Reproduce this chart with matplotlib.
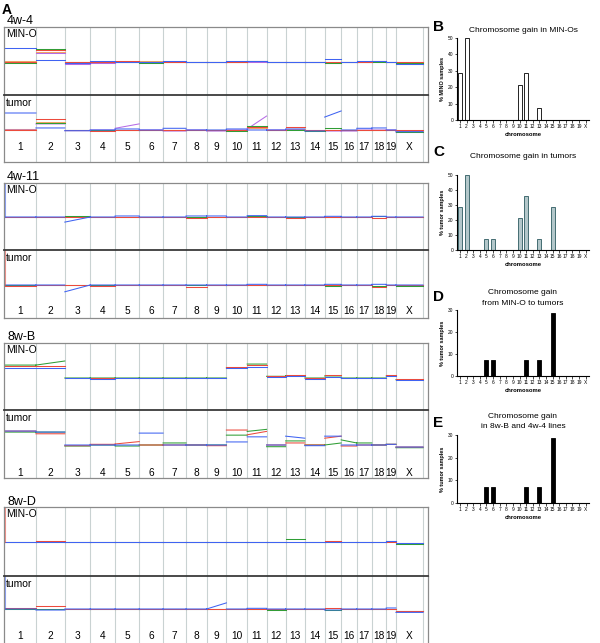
import numpy as np
import matplotlib
matplotlib.use('Agg')
import matplotlib.pyplot as plt

plt.rcParams['font.family'] = ['Liberation Sans', 'DejaVu Sans']

W, H = 600, 643

chrom_names = [str(i) for i in range(1, 20)] + ['X']
chrom_mb = [195, 182, 160, 157, 152, 150, 145, 129, 125, 131, 122, 120, 121, 125, 104, 98, 95, 91, 61, 171]

# % of samples with chromosome gain (panels B-E)
gain_mino = [28.6, 50, 0, 0, 0, 0, 0, 0, 0, 21.4, 28.6, 0, 7.1, 0, 0, 0, 0, 0, 0, 0]
gain_tumor = [28.6, 50, 0, 0, 7.1, 7.1, 0, 0, 0, 21.4, 35.7, 0, 7.1, 0, 28.6, 0, 0, 0, 0, 0]
gain_mino_to_tumor = [0, 0, 0, 0, 7.1, 7.1, 0, 0, 0, 0, 7.1, 0, 7.1, 0, 28.6, 0, 0, 0, 0, 0]
gain_8wB_4w4 = [0, 0, 0, 0, 7.1, 7.1, 0, 0, 0, 0, 7.1, 0, 7.1, 0, 28.6, 0, 0, 0, 0, 0]

# copy number profiles, one level per chromosome (tuple = start/end level)
w44_mino_orange = [0.02, 0.30, 0.0, 0.0, 0.0, 0.02, 0.0, 0.0, 0.0, 0.0, 0.02, 0.0, 0.0, 0.0, 0.0, 0.0, 0.0, 0.03, 0.0, 0.0]
w44_mino_purple = [0.0, 0.26, -0.05, -0.03, 0.0, 0.0, 0.0, 0.0, 0.0, 0.0, 0.0, 0.0, 0.0, 0.0, -0.03, 0.0, 0.0, 0.0, 0.0, -0.05]
w44_mino_green = [-0.02, 0.38, 0.0, 0.0, 0.0, -0.02, 0.0, 0.0, 0.0, 0.0, 0.02, 0.0, 0.0, 0.0, -0.02, 0.0, 0.0, 0.0, 0.0, -0.02]
w44_mino_red = [0.0, 0.35, 0.0, 0.0, 0.02, 0.0, 0.0, 0.0, 0.0, 0.0, 0.04, 0.0, 0.0, 0.0, 0.0, 0.0, 0.0, 0.02, 0.0, 0.0]
w44_mino_blue = [0.41, 0.06, -0.03, 0.02, 0.0, 0.0, 0.03, 0.0, 0.0, 0.02, 0.03, 0.0, 0.0, 0.0, 0.09, 0.0, 0.03, 0.02, 0.0, -0.06]

w44_tum_orange = [0.02, 0.24, 0.0, 0.0, 0.0, 0.0, 0.0, 0.0, 0.0, 0.0, 0.06, 0.0, 0.03, 0.0, 0.0, 0.0, 0.0, 0.0, 0.0, -0.03]
w44_tum_purple = [0.0, 0.18, -0.02, 0.0, (0.05, 0.18), 0.0, -0.03, 0.0, -0.03, 0.0, (0.03, 0.41), 0.0, 0.0, -0.03, -0.03, -0.03, 0.0, 0.0, 0.0, -0.06]
w44_tum_green = [0.0, 0.2, 0.0, 0.0, 0.0, 0.0, 0.0, 0.0, 0.0, -0.03, 0.12, 0.0, 0.0, -0.02, 0.06, 0.0, 0.0, 0.0, 0.0, -0.06]
w44_tum_red = [0.0, 0.32, 0.0, -0.03, 0.0, 0.0, 0.0, 0.0, 0.0, 0.0, 0.08, 0.0, 0.09, 0.0, 0.0, 0.0, 0.0, 0.0, 0.0, 0.0]
w44_tum_blue = [0.5, 0.06, -0.02, 0.0, 0.03, 0.0, 0.05, 0.0, 0.0, 0.03, 0.0, 0.0, 0.03, -0.03, (0.38, 0.56), 0.0, 0.05, 0.06, 0.0, -0.05]

w411_mino_green = [0.0, 0.0, 0.02, 0.0, 0.0, 0.0, 0.0, 0.0, 0.0, 0.0, 0.03, 0.0, 0.0, 0.0, 0.0, 0.0, 0.0, 0.02, 0.0, 0.0]
w411_mino_red = [0.0, 0.0, 0.0, 0.0, 0.0, 0.0, 0.0, -0.02, 0.0, 0.0, 0.0, 0.0, -0.02, 0.0, 0.0, 0.0, 0.0, -0.04, 0.0, 0.0]
w411_mino_blue = [0.0, 0.0, (-0.15, 0.0), 0.0, 0.03, 0.0, 0.0, 0.03, 0.03, 0.0, 0.04, 0.0, 0.0, 0.0, 0.02, 0.0, 0.0, 0.02, 0.0, 0.0]
w411_tum_green = [0.0, 0.0, 0.0, 0.0, 0.0, 0.0, 0.0, 0.0, 0.0, 0.0, 0.0, 0.0, 0.0, 0.0, -0.04, 0.0, 0.0, -0.03, 0.0, -0.03]
w411_tum_red = [-0.02, 0.0, 0.0, -0.02, 0.0, 0.0, 0.0, -0.05, 0.0, 0.0, 0.0, 0.0, 0.0, 0.0, 0.0, 0.0, 0.0, -0.06, 0.0, 0.0]
w411_tum_blue = [0.0, 0.0, (-0.2, 0.0), 0.0, 0.0, 0.0, 0.0, 0.0, 0.0, 0.0, 0.02, 0.0, 0.0, 0.0, 0.02, 0.0, 0.0, 0.02, 0.0, 0.0]

w8b_mino_green = [0.38, (0.38, 0.5), 0.0, 0.0, 0.0, 0.0, 0.0, 0.0, 0.0, 0.3, 0.41, 0.05, 0.07, 0.0, 0.06, 0.0, 0.0, 0.0, 0.06, -0.05]
w8b_mino_red = [0.35, 0.35, 0.0, 0.0, 0.0, 0.0, 0.0, 0.0, 0.0, 0.32, 0.38, 0.06, 0.08, 0.0, 0.1, 0.0, 0.0, 0.0, 0.08, -0.04]
w8b_mino_blue = [0.29, 0.29, 0.0, -0.02, 0.0, 0.0, 0.0, 0.0, 0.0, 0.29, 0.32, 0.03, 0.05, -0.02, 0.04, 0.0, 0.0, 0.0, 0.05, -0.06]
w8b_tum_green = [0.38, 0.38, -0.03, 0.0, -0.03, 0.0, 0.06, 0.0, 0.0, 0.29, (0.4, 0.46), -0.05, 0.12, 0.0, (0.0, 0.06), (0.15, 0.06), 0.06, 0.0, 0.02, -0.08]
w8b_tum_red = [0.41, 0.33, -0.02, 0.02, (0.03, 0.1), 0.0, 0.0, 0.0, -0.02, 0.44, (0.3, 0.4), 0.0, 0.06, 0.0, (0.2, 0.26), -0.03, 0.0, 0.0, 0.02, -0.06]
w8b_tum_blue = [0.41, 0.38, 0.0, 0.0, 0.0, 0.35, 0.0, 0.0, 0.0, 0.09, 0.24, 0.0, (0.26, 0.2), -0.02, 0.26, 0.0, 0.0, 0.0, 0.02, -0.06]

w8d_mino_green = [0.0, 0.0, 0.0, 0.0, 0.0, 0.0, 0.0, 0.0, 0.0, 0.0, 0.0, 0.0, 0.09, 0.0, 0.0, 0.0, 0.0, 0.0, 0.02, -0.05]
w8d_mino_red = [0.0, 0.02, 0.0, 0.0, 0.0, 0.0, 0.0, 0.0, 0.0, 0.0, 0.0, 0.0, 0.0, 0.0, 0.02, 0.0, 0.0, 0.0, 0.0, -0.03]
w8d_mino_blue = [0.0, 0.0, 0.0, 0.0, 0.0, 0.0, 0.0, 0.0, 0.0, 0.0, 0.0, 0.0, 0.0, 0.0, 0.0, 0.0, 0.0, 0.0, 0.03, -0.04]
w8d_tum_green = [0.0, 0.0, 0.0, 0.0, 0.0, 0.0, 0.0, 0.0, 0.0, 0.0, 0.0, -0.02, 0.0, 0.0, -0.03, 0.0, 0.0, 0.0, 0.0, -0.07]
w8d_tum_red = [0.03, 0.08, 0.0, 0.0, 0.0, 0.0, 0.0, 0.0, 0.0, 0.0, 0.0, 0.0, 0.0, 0.0, 0.02, 0.0, 0.0, 0.0, 0.0, -0.05]
w8d_tum_blue = [0.0, -0.03, 0.0, 0.0, 0.0, 0.0, 0.0, 0.0, (0.0, 0.18), 0.0, 0.02, 0.0, 0.0, 0.0, -0.03, 0.0, 0.0, 0.0, 0.03, -0.1]

COL = {'blue': '#3f63f2', 'red': '#ec4a3c', 'green': '#2f9e35', 'purple': '#b56be6', 'orange': '#f2a463'}

fig = plt.figure(figsize=(W / 100, H / 100), dpi=100)


def px_axes(x0, top, x1, bottom):
    return fig.add_axes([x0 / W, 1 - bottom / H, (x1 - x0) / W, (bottom - top) / H])


def px_text(x, y, s, **kw):
    fig.text(x / W, 1 - y / H, s, **kw)


ends = np.cumsum(chrom_mb)
starts = ends - np.array(chrom_mb)
mids = (starts + ends) / 2
SCALE = 34.0  # px per unit


def draw_profile(ax, lines):
    for cname, levels in lines:
        xs, ys = [], []
        for i, lv in enumerate(levels):
            y0, y1 = lv if isinstance(lv, tuple) else (lv, lv)
            xs += [starts[i], ends[i], np.nan]
            ys += [y0, y1, np.nan]
        ax.plot(xs, ys, color=COL[cname], lw=0.75)


def style_box(ax, lo, hi):
    ax.set_xlim(-6, ends[-1] + 31)
    ax.set_ylim(lo, hi)
    ax.set_xticks([])
    ax.set_yticks([])
    for b in ends:
        ax.axvline(b, color='#c9d2d2', lw=0.8, zorder=0)
    for s in ax.spines.values():
        s.set_color('#8a8a8a')
        s.set_linewidth(0.9)


groups = [
    ('4w-4', (27, 95, 162, 62, 130, 147, 21),
     [('orange', w44_mino_orange), ('purple', w44_mino_purple), ('green', w44_mino_green), ('red', w44_mino_red), ('blue', w44_mino_blue)],
     [('orange', w44_tum_orange), ('purple', w44_tum_purple), ('green', w44_tum_green), ('red', w44_tum_red), ('blue', w44_tum_blue)],
     (None, None)),
    ('4w-11', (183, 250, 318, 217, 285, 311, 177),
     [('green', w411_mino_green), ('red', w411_mino_red), ('blue', w411_mino_blue)],
     [('green', w411_tum_green), ('red', w411_tum_red), ('blue', w411_tum_blue)],
     ('blue', 'red')),
    ('8w-B', (343, 410, 478, 378, 445, 473, 337),
     [('green', w8b_mino_green), ('red', w8b_mino_red), ('blue', w8b_mino_blue)],
     [('green', w8b_tum_green), ('red', w8b_tum_red), ('blue', w8b_tum_blue)],
     (None, None)),
    ('8w-D', (507, 576, 646, 542, 609, 636, 502),
     [('green', w8d_mino_green), ('red', w8d_mino_red), ('blue', w8d_mino_blue)],
     [('green', w8d_tum_green), ('red', w8d_tum_red), ('blue', w8d_tum_blue)],
     ('red', 'blue')),
]

for name, (top, div, bot, mb, tb, laby, namey), mino, tum, edge in groups:
    ax1 = px_axes(4, top, 428, div)
    lo1, hi1 = -(div - mb) / SCALE, (mb - top) / SCALE
    style_box(ax1, lo1, hi1)
    draw_profile(ax1, mino)
    ax2 = px_axes(4, div, 428, bot)
    lo2, hi2 = -(bot - tb) / SCALE, (tb - div) / SCALE
    style_box(ax2, lo2, hi2)
    draw_profile(ax2, tum)
    ax2.spines['top'].set_color('#3a3a3a')
    ax2.spines['top'].set_linewidth(1.3)
    ax1.spines['bottom'].set_visible(False)
    if edge[0]:
        ax1.plot([0, 0], [hi1, 0], color=COL[edge[0]], lw=0.8, alpha=0.6)
    if edge[1]:
        ax2.plot([0, 0], [hi2, 0], color=COL[edge[1]], lw=0.8, alpha=0.6)
    for m, lab in zip(mids, chrom_names):
        ax2.text(m, -(laby - tb) / SCALE, lab, ha='center', va='center', fontsize=7.3)
    px_text(7, namey, name, fontsize=9, va='center', ha='left')
    px_text(6, top + 7, 'MIN-O', fontsize=7.5, va='center', ha='left')
    px_text(6, div + 8, 'tumor', fontsize=7.5, va='center', ha='left')

px_text(2, 10, 'A', fontsize=10, fontweight='bold', va='center', ha='left')

# right-hand bar charts
x = np.arange(1, 21)
panels = [
    ('B', gain_mino, 50, 38, 120, 'white', 'black', ['Chromosome gain in MIN-Os'], [30], 27, '% MINO samples'),
    ('C', gain_tumor, 50, 175, 250, '#b3c7ca', '#2d5a60', ['Chromosome gain in tumors'], [157], 152, '% tumor samples'),
    ('D', gain_mino_to_tumor, 30, 310, 376, 'black', 'black', ['Chromosome gain', 'from MIN-O to tumors'], [293, 304], 297, '% tumor samples'),
    ('E', gain_8wB_4w4, 30, 435, 503, 'black', 'black', ['Chromosome gain', 'in 8w-B and 4w-4 lines'], [416, 426], 423, '% tumor samples'),
]
for letter, vals, ymax, top, bot, fc, ec, tlines, ty, ly, ylab in panels:
    ax = px_axes(457, top, 589, bot)
    ax.bar(x, vals, width=0.6, color=fc, edgecolor=ec, linewidth=0.6)
    ax.set_xlim(0.55, 20.5)
    ax.set_ylim(0, ymax)
    ax.set_yticks(np.arange(0, ymax + 1, 10))
    ax.set_xticks(x)
    ax.set_xticklabels(chrom_names)
    ax.tick_params(axis='both', labelsize=3.5, length=1.8, width=0.5, pad=1)
    for s in ['top', 'right']:
        ax.spines[s].set_visible(False)
    for s in ['left', 'bottom']:
        ax.spines[s].set_linewidth(0.8)
    ax.set_xlabel('chromosome', fontsize=4.2, fontweight='bold', labelpad=2)
    ax.set_ylabel(ylab, fontsize=4, fontweight='bold', labelpad=2)
    for t, yy in zip(tlines, ty):
        px_text(523, yy, t, fontsize=6, ha='center', va='center')
    px_text(433, ly, letter, fontsize=11, fontweight='bold', ha='left', va='center')

fig.savefig('out.png', dpi=100)
